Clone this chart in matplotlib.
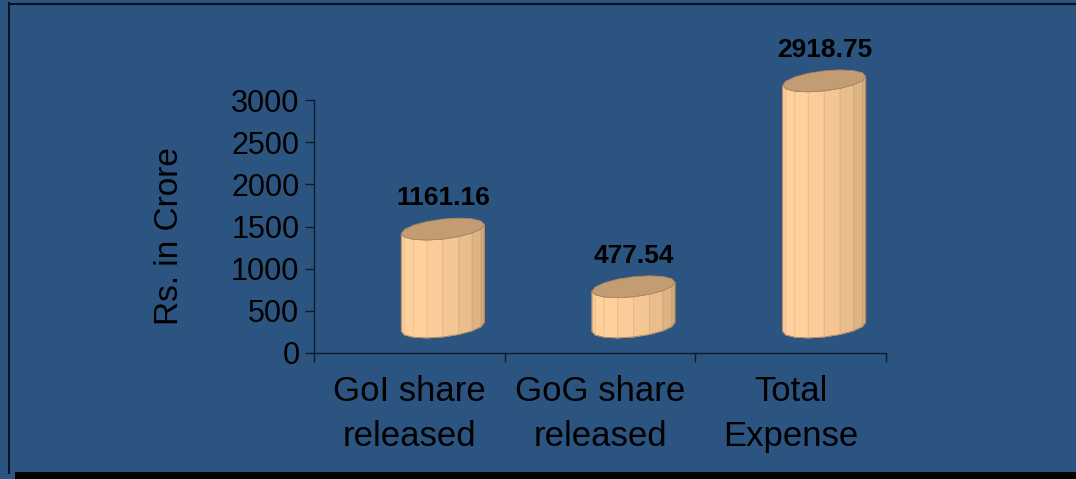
import numpy as np
import matplotlib

matplotlib.use("Agg")
import matplotlib.pyplot as plt
from matplotlib.colors import to_rgb
from matplotlib.lines import Line2D
from matplotlib.patches import Polygon, Rectangle

# data
categories = ["GoI share\nreleased", "GoG share\nreleased", "Total\nExpense"]
values = [1161.16, 477.54, 2918.75]
value_labels = ["1161.16", "477.54", "2918.75"]
y_ticks = [0, 500, 1000, 1500, 2000, 2500, 3000]

BG = "#2b5480"
AXIS = "#111a28"
LIGHT = np.array(to_rgb("#ffd09c"))
DARK = np.array(to_rgb("#c29a6e"))
TOP = "#c49c73"
EDGE = "#a8865f"

W, H = 1076, 479
plt.rcParams["font.family"] = ["Liberation Sans", "DejaVu Sans"]
fig = plt.figure(figsize=(W / 100, H / 100), dpi=100, facecolor=BG)

ax = fig.add_axes([314 / W, 126 / H, 572 / W, 253 / H])
ax.set_facecolor("none")
ax.set_xlim(0, 3)
ax.set_ylim(0, 3000)
for side in ("top", "right"):
    ax.spines[side].set_visible(False)
for side in ("left", "bottom"):
    ax.spines[side].set_color(AXIS)
    ax.spines[side].set_linewidth(1)

ax.set_yticks(y_ticks)
ax.set_yticklabels([str(t) for t in y_ticks])
ax.tick_params(axis="y", direction="out", length=6.5, width=1, color=AXIS,
               labelsize=22, pad=4, labelcolor="black")
ax.set_xticks(range(len(categories) + 1))
ax.set_xticklabels([""] * (len(categories) + 1))
ax.tick_params(axis="x", which="major", direction="out", length=6.5, width=1, color=AXIS)
ax.set_xticks(np.arange(len(categories)) + 0.5, minor=True)
ax.set_xticklabels(categories, minor=True)
ax.tick_params(axis="x", which="minor", length=0, labelsize=25, pad=16, labelcolor="black")
for lbl in ax.get_xticklabels(minor=True):
    lbl.set_linespacing(1.45)

fig.text(170 / W, 1 - 236 / H, "Rs. in Crore", rotation=90, ha="center", va="center",
         fontsize=24, color="black")

# faceted 3-D cylinders, geometry in pixels, heights from the data scale
a, b, s = 41.5, 10.0, 4.5   # half width, ellipse depth, skew
lift = 16                   # floor depth
n = 16
angles = np.linspace(np.pi, 3 * np.pi, n + 1)
inv = ax.transData.inverted()


def ring(xc, yc, t):
    return np.column_stack([xc + a * np.cos(t), yc + b * np.sin(t) + s * np.cos(t)])


for i, v in enumerate(values):
    x0, y0 = ax.transData.transform((i + 0.5, 0))
    _, yv = ax.transData.transform((i + 0.5, v))
    xc = x0 - 8 + a
    yb = y0 + lift + b
    yt = yv + lift + b
    front = np.linspace(np.pi, 2 * np.pi, n // 2 + 1)
    for t1, t2 in zip(front[:-1], front[1:]):
        tm = 0.5 * (t1 + t2)
        w = (np.cos(tm - np.radians(225)) + 1) / 2
        col = DARK + (LIGHT - DARK) * w ** 0.8
        bot = ring(xc, yb, np.array([t1, t2]))
        top = ring(xc, yt, np.array([t2, t1]))
        poly = inv.transform(np.vstack([bot, top]))
        ax.add_patch(Polygon(poly, closed=True, facecolor=col, edgecolor=col * 0.94,
                             linewidth=0.6, clip_on=False, zorder=3))
    outline = np.vstack([ring(xc, yb, front), ring(xc, yt, front[::-1])])
    ax.add_patch(Polygon(inv.transform(outline), closed=True, facecolor="none",
                         edgecolor=EDGE, linewidth=0.6, clip_on=False, zorder=3.5))
    cap = inv.transform(ring(xc, yt, angles[:-1]))
    ax.add_patch(Polygon(cap, closed=True, facecolor=TOP, edgecolor=EDGE,
                         linewidth=0.6, clip_on=False, zorder=4))
    ax.annotate(value_labels[i], xy=(i + 0.5, v), xytext=(34, 57),
                textcoords="offset pixels", ha="center", va="center",
                fontsize=19, fontweight="bold", color="black")

# slide frame and shadow
fig.add_artist(Line2D([9 / W, 1], [1 - 3.5 / H, 1 - 3.5 / H], transform=fig.transFigure,
                      color="#0a1020", linewidth=1.5))
fig.add_artist(Line2D([9 / W, 9 / W], [1 - 3 / H, 1 - 473 / H], transform=fig.transFigure,
                      color="#0a1020", linewidth=1.5))
fig.add_artist(Rectangle((15 / W, 0), 1, 7 / H, transform=fig.transFigure,
                         facecolor="black", edgecolor="none"))

fig.savefig("out.png", dpi=100, facecolor=BG)
